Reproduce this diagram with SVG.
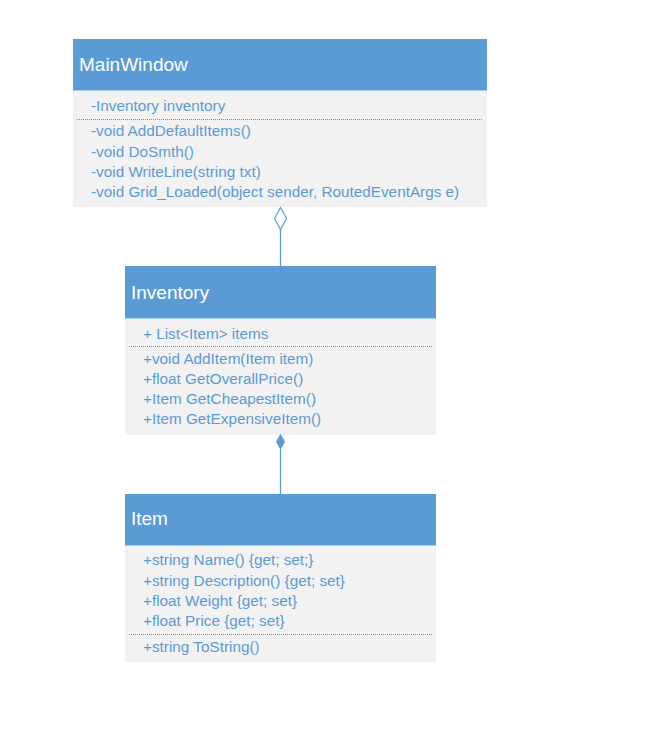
<svg xmlns="http://www.w3.org/2000/svg" width="672" height="738" viewBox="0 0 672 738">
<defs>
<style>
.hdr{fill:#5B9BD5}
.body{fill:#F2F2F2}
.title{font-family:"Liberation Sans",Arial,sans-serif;font-size:19px;fill:#FFFFFF}
.mem{font-family:"Liberation Sans",Arial,sans-serif;font-size:15.3px;fill:#5B9BD5}
.div{stroke:#5B9BD5;stroke-width:1;stroke-dasharray:1 1;fill:none}
.conn{stroke:#5B9BD5;stroke-width:1.3;fill:none}
</style>
</defs>
<rect width="672" height="738" fill="#FFFFFF"/>
<g id="MainWindow">
<rect class="hdr" x="73" y="39" width="414" height="51.5"/>
<rect class="body" x="73" y="91" width="414" height="116"/>
<text class="title" x="79" y="71">MainWindow</text>
<text class="mem" x="91" y="111">-Inventory inventory</text>
<line class="div" x1="77" y1="119.5" x2="483" y2="119.5"/>
<text class="mem" x="91" y="136">-void AddDefaultItems()</text>
<text class="mem" x="91" y="156.5">-void DoSmth()</text>
<text class="mem" x="91" y="176.5">-void WriteLine(string txt)</text>
<text class="mem" x="91" y="196.5">-void Grid_Loaded(object sender, RoutedEventArgs e)</text>
</g>
<g id="Inventory">
<rect class="hdr" x="125" y="266" width="311" height="52.5"/>
<rect class="body" x="125" y="319" width="311" height="116"/>
<text class="title" x="131" y="298.5">Inventory</text>
<text class="mem" x="143" y="338.5">+ List&lt;Item&gt; items</text>
<line class="div" x1="129" y1="346.5" x2="432" y2="346.5"/>
<text class="mem" x="143" y="363.5">+void AddItem(Item item)</text>
<text class="mem" x="143" y="383.5">+float GetOverallPrice()</text>
<text class="mem" x="143" y="403.5">+Item GetCheapestItem()</text>
<text class="mem" x="143" y="423.5">+Item GetExpensiveItem()</text>
</g>
<g id="Item">
<rect class="hdr" x="125" y="494" width="311" height="51.5"/>
<rect class="body" x="125" y="546" width="311" height="116"/>
<text class="title" x="131" y="524.5">Item</text>
<text class="mem" x="143" y="565">+string Name() {get; set;}</text>
<text class="mem" x="143" y="585.5">+string Description() {get; set}</text>
<text class="mem" x="143" y="605.5">+float Weight {get; set}</text>
<text class="mem" x="143" y="625.5">+float Price {get; set}</text>
<line class="div" x1="129" y1="634.5" x2="432" y2="634.5"/>
<text class="mem" x="143" y="651.5">+string ToString()</text>
</g>
<g id="connectors">
<line class="conn" x1="280.5" y1="229.5" x2="280.5" y2="266"/>
<path d="M280.5 207.5 L286.5 218.5 L280.5 229.5 L274.5 218.5 Z" fill="#FFFFFF" stroke="#5B9BD5" stroke-width="1.2"/>
<line class="conn" x1="280.5" y1="449" x2="280.5" y2="494"/>
<path d="M280.5 434.5 L284.5 441.7 L280.5 449 L276.5 441.7 Z" fill="#5B9BD5" stroke="#5B9BD5" stroke-width="1"/>
</g>
</svg>
